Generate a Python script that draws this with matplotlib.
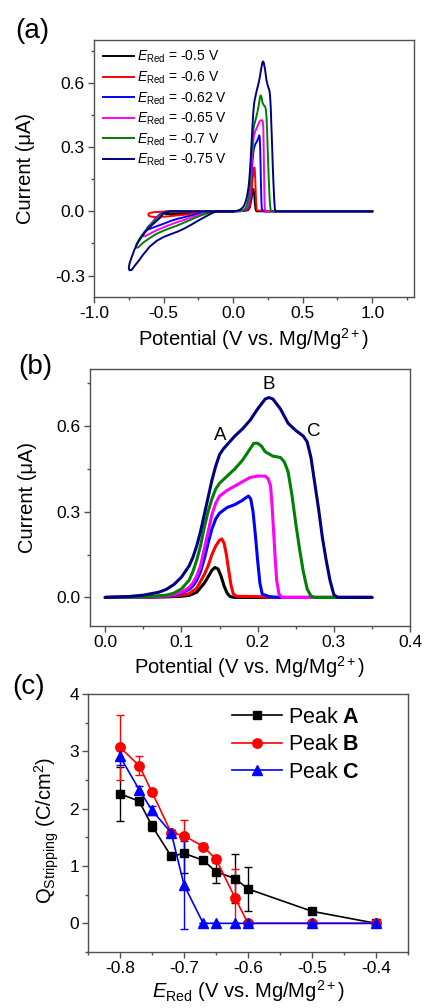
import numpy as np
import matplotlib
matplotlib.use('Agg')
import matplotlib.pyplot as plt
from matplotlib.ticker import MultipleLocator, FormatStrFormatter

plt.rcParams['font.family'] = ['Liberation Sans', 'DejaVu Sans']
plt.rcParams['mathtext.fontset'] = 'custom'
plt.rcParams['mathtext.rm'] = 'Liberation Sans'
plt.rcParams['mathtext.it'] = 'Liberation Sans:italic'
plt.rcParams['mathtext.bf'] = 'Liberation Sans:bold'
plt.rcParams['axes.unicode_minus'] = False

# ---------------- data ----------------
e_red_labels = ['-0.5', '-0.6', '-0.62', '-0.65', '-0.7', '-0.75']
curve_colors = ['#000000', '#FF0000', '#0000FF', '#FF00FF', '#008000', '#000080']

# Panel (b): anodic stripping part (potential V, current uA)
strip_E_050 = [0.00, 0.05, 0.08, 0.10, 0.11, 0.12, 0.13, 0.135, 0.14, 0.144, 0.148, 0.152, 0.156, 0.16, 0.164, 0.17, 0.35]
strip_I_050 = [0.0, 0.001, 0.002, 0.004, 0.007, 0.018, 0.05, 0.072, 0.095, 0.105, 0.10, 0.075, 0.04, 0.015, 0.003, 0.0, 0.0]

strip_E_060 = [0.00, 0.05, 0.08, 0.10, 0.11, 0.12, 0.13, 0.135, 0.14, 0.145, 0.15, 0.153, 0.156, 0.159, 0.162, 0.165, 0.168, 0.172, 0.20, 0.22, 0.35]
strip_I_060 = [0.0, 0.001, 0.003, 0.008, 0.013, 0.032, 0.08, 0.11, 0.15, 0.18, 0.20, 0.205, 0.19, 0.15, 0.095, 0.045, 0.013, 0.004, 0.003, 0.0, 0.0]

strip_E_062 = [0.00, 0.05, 0.08, 0.09, 0.10, 0.11, 0.115, 0.12, 0.125, 0.13, 0.135, 0.14, 0.145, 0.15, 0.16, 0.17, 0.18, 0.185, 0.188, 0.191, 0.194, 0.197, 0.200, 0.203, 0.206, 0.215, 0.228, 0.35]
strip_I_062 = [0.0, 0.001, 0.004, 0.008, 0.015, 0.028, 0.04, 0.06, 0.09, 0.135, 0.19, 0.24, 0.275, 0.295, 0.315, 0.325, 0.34, 0.35, 0.355, 0.345, 0.30, 0.22, 0.13, 0.05, 0.012, 0.003, 0.0, 0.0]

strip_E_065 = [0.00, 0.05, 0.08, 0.09, 0.10, 0.11, 0.115, 0.12, 0.125, 0.13, 0.135, 0.14, 0.145, 0.15, 0.16, 0.17, 0.18, 0.19, 0.20, 0.21, 0.214, 0.217, 0.219, 0.221, 0.223, 0.225, 0.228, 0.232, 0.35]
strip_I_065 = [0.0, 0.001, 0.005, 0.01, 0.018, 0.035, 0.05, 0.075, 0.11, 0.17, 0.23, 0.29, 0.33, 0.355, 0.375, 0.39, 0.405, 0.42, 0.425, 0.425, 0.415, 0.39, 0.32, 0.23, 0.14, 0.06, 0.012, 0.0, 0.0]

strip_E_070 = [0.00, 0.05, 0.08, 0.09, 0.10, 0.11, 0.115, 0.12, 0.125, 0.13, 0.135, 0.14, 0.145, 0.15, 0.16, 0.17, 0.18, 0.19, 0.195, 0.20, 0.205, 0.21, 0.22, 0.23, 0.235, 0.24, 0.245, 0.25, 0.255, 0.26, 0.265, 0.27, 0.275, 0.35]
strip_I_070 = [0.0, 0.002, 0.008, 0.015, 0.03, 0.06, 0.09, 0.13, 0.18, 0.245, 0.30, 0.345, 0.38, 0.40, 0.425, 0.45, 0.48, 0.52, 0.54, 0.54, 0.53, 0.51, 0.495, 0.49, 0.475, 0.44, 0.36, 0.26, 0.17, 0.09, 0.03, 0.005, 0.0, 0.0]

strip_E_075 = [0.00, 0.03, 0.05, 0.07, 0.08, 0.09, 0.10, 0.11, 0.115, 0.12, 0.125, 0.13, 0.135, 0.14, 0.145, 0.15, 0.155, 0.16, 0.165, 0.17, 0.18, 0.19, 0.20, 0.21, 0.215, 0.22, 0.23, 0.24, 0.25, 0.26, 0.265, 0.27, 0.275, 0.28, 0.285, 0.29, 0.295, 0.30, 0.305, 0.35]
strip_I_075 = [0.0, 0.003, 0.008, 0.018, 0.028, 0.045, 0.071, 0.11, 0.14, 0.18, 0.23, 0.29, 0.35, 0.41, 0.46, 0.50, 0.52, 0.535, 0.55, 0.565, 0.59, 0.62, 0.66, 0.695, 0.70, 0.695, 0.66, 0.61, 0.585, 0.565, 0.545, 0.49, 0.40, 0.31, 0.21, 0.13, 0.06, 0.01, 0.0, 0.0]

# Panel (a): cathodic loop (forward to E_Red, then back)
cath_E_050 = [0.0, -0.45, -0.49, -0.50, -0.49, -0.45, -0.40, -0.35, -0.30, -0.25, -0.20, -0.15, -0.12]
cath_I_050 = [0.0, 0.0, -0.002, -0.006, -0.012, -0.013, -0.012, -0.010, -0.008, -0.006, -0.003, -0.001, 0.0]

cath_E_060 = [0.0, -0.45, -0.52, -0.57, -0.595, -0.605, -0.61, -0.605, -0.59, -0.56, -0.52, -0.48, -0.45, -0.40, -0.35, -0.30, -0.25, -0.20, -0.15, -0.12]
cath_I_060 = [0.0, 0.0, -0.002, -0.004, -0.007, -0.010, -0.015, -0.021, -0.025, -0.027, -0.026, -0.024, -0.022, -0.019, -0.016, -0.012, -0.008, -0.004, -0.001, 0.0]

cath_E_062 = [0.0, -0.46, -0.50, -0.53, -0.56, -0.59, -0.61, -0.62, -0.615, -0.60, -0.55, -0.50, -0.45, -0.40, -0.35, -0.30, -0.25, -0.20, -0.15, -0.12]
cath_I_062 = [0.0, 0.0, -0.005, -0.015, -0.035, -0.058, -0.072, -0.080, -0.085, -0.082, -0.070, -0.058, -0.045, -0.035, -0.027, -0.019, -0.011, -0.005, -0.001, 0.0]

cath_E_065 = [0.0, -0.46, -0.50, -0.53, -0.57, -0.60, -0.63, -0.645, -0.65, -0.645, -0.63, -0.60, -0.55, -0.50, -0.45, -0.40, -0.35, -0.30, -0.25, -0.20, -0.15, -0.12]
cath_I_065 = [0.0, 0.0, -0.006, -0.020, -0.045, -0.068, -0.090, -0.105, -0.112, -0.117, -0.115, -0.105, -0.088, -0.075, -0.062, -0.050, -0.040, -0.028, -0.017, -0.008, -0.002, 0.0]

cath_E_070 = [0.0, -0.45, -0.50, -0.53, -0.56, -0.60, -0.63, -0.66, -0.68, -0.695, -0.70, -0.695, -0.68, -0.65, -0.60, -0.55, -0.50, -0.45, -0.40, -0.35, -0.30, -0.25, -0.20, -0.15, -0.12]
cath_I_070 = [0.0, 0.0, -0.006, -0.025, -0.042, -0.068, -0.090, -0.115, -0.135, -0.155, -0.165, -0.170, -0.167, -0.148, -0.125, -0.105, -0.090, -0.078, -0.066, -0.052, -0.038, -0.024, -0.012, -0.003, 0.0]

cath_E_075 = [0.0, -0.45, -0.50, -0.525, -0.55, -0.585, -0.62, -0.65, -0.67, -0.69, -0.71, -0.73, -0.745, -0.75, -0.745, -0.73, -0.72, -0.70, -0.68, -0.65, -0.60, -0.55, -0.50, -0.45, -0.40, -0.35, -0.30, -0.25, -0.20, -0.15, -0.12]
cath_I_075 = [0.0, 0.0, -0.008, -0.030, -0.045, -0.065, -0.088, -0.112, -0.132, -0.152, -0.180, -0.215, -0.245, -0.265, -0.275, -0.274, -0.265, -0.248, -0.232, -0.205, -0.165, -0.138, -0.120, -0.107, -0.095, -0.080, -0.062, -0.043, -0.025, -0.008, 0.0]

tail_E = [1.0]
tail_I = [0.0]

# Panel (c)
e_red_c = [-0.80, -0.77, -0.75, -0.72, -0.70, -0.67, -0.65, -0.62, -0.60, -0.50, -0.40]
qA = [2.26, 2.13, 1.70, 1.17, 1.22, 1.10, 0.90, 0.78, 0.60, 0.21, 0.00]
qA_err = [0.47, 0.06, 0.09, 0.04, 0.34, 0.05, 0.20, 0.43, 0.38, 0.03, 0.0]
qB = [3.07, 2.75, 2.29, 1.58, 1.53, 1.34, 1.12, 0.44, 0.00, 0.00, 0.00]
qB_err = [0.57, 0.16, 0.05, 0.04, 0.27, 0.06, 0.06, 0.51, 0.0, 0.0, 0.0]
qC = [2.91, 2.33, 1.97, 1.58, 0.67, 0.00, 0.00, 0.00, 0.00, 0.00, 0.00]
qC_err = [0.15, 0.06, 0.08, 0.04, 0.77, 0.0, 0.0, 0.0, 0.0, 0.0, 0.0]

strip_E = [strip_E_050, strip_E_060, strip_E_062, strip_E_065, strip_E_070, strip_E_075]
strip_I = [strip_I_050, strip_I_060, strip_I_062, strip_I_065, strip_I_070, strip_I_075]
cath_E = [cath_E_050, cath_E_060, cath_E_062, cath_E_065, cath_E_070, cath_E_075]
cath_I = [cath_I_050, cath_I_060, cath_I_062, cath_I_065, cath_I_070, cath_I_075]

# ---------------- figure ----------------
W, H = 424, 1008
fig = plt.figure(figsize=(W / 100, H / 100), dpi=100)

def ax_px(left, top, right, bottom):
    return fig.add_axes([left / W, 1 - bottom / H, (right - left) / W, (bottom - top) / H])

axA = ax_px(94, 40, 414, 297)
axB = ax_px(90, 369, 410, 626)
axC = ax_px(88, 694, 408, 952)

SPINE = '#505050'
def style(ax):
    for s in ax.spines.values():
        s.set_color(SPINE)
        s.set_linewidth(1.0)
    ax.tick_params(which='both', direction='out', top=False, right=False,
                   color=SPINE, labelsize=12.5)
    ax.tick_params(which='major', length=4, width=1.0, pad=2.5)
    ax.tick_params(which='minor', length=2.5, width=1.0)

pot_label = r'Potential (V vs. Mg/Mg$^{2+}$)'
cur_label = u'Current (\u03bcA)'

# ---- (a)
for lab, col, cE, cI, sE, sI in zip(e_red_labels, curve_colors, cath_E, cath_I, strip_E, strip_I):
    xs = list(cE) + list(sE) + tail_E
    ys = list(cI) + list(sI) + tail_I
    axA.plot(xs, ys, color=col, lw=1.4, label=r'$E_{\mathrm{Red}}$ = ' + lab + ' V')
axA.set_xlim(-1.0, 1.3)
axA.set_ylim(-0.4, 0.8)
axA.xaxis.set_major_locator(MultipleLocator(0.5))
axA.xaxis.set_minor_locator(MultipleLocator(0.25))
axA.yaxis.set_major_locator(MultipleLocator(0.3))
axA.yaxis.set_minor_locator(MultipleLocator(0.15))
axA.xaxis.set_major_formatter(FormatStrFormatter('%.1f'))
axA.yaxis.set_major_formatter(FormatStrFormatter('%.1f'))
style(axA)
axA.set_xlabel(pot_label, fontsize=14.5)
axA.set_ylabel(cur_label, fontsize=14.5)
axA.xaxis.set_label_coords(0.5, -0.115)
axA.yaxis.set_label_coords(-0.185, 0.5)
axA.legend(loc='upper left', bbox_to_anchor=(0.0, 1.0), frameon=False, fontsize=10,
           handlelength=2.2, handletextpad=0.25, labelspacing=0.3, borderaxespad=0.25)

# ---- (b)
for col, sE, sI in zip(curve_colors, strip_E, strip_I):
    axB.plot(sE, sI, color=col, lw=2.2, solid_joinstyle='round', solid_capstyle='round')
axB.set_xlim(-0.02, 0.4)
axB.set_ylim(-0.1, 0.8)
axB.xaxis.set_major_locator(MultipleLocator(0.1))
axB.xaxis.set_minor_locator(MultipleLocator(0.05))
axB.yaxis.set_major_locator(MultipleLocator(0.3))
axB.yaxis.set_minor_locator(MultipleLocator(0.15))
axB.xaxis.set_major_formatter(FormatStrFormatter('%.1f'))
axB.yaxis.set_major_formatter(FormatStrFormatter('%.1f'))
style(axB)
axB.set_xlabel(pot_label, fontsize=14.5)
axB.set_ylabel(cur_label, fontsize=14.5)
axB.xaxis.set_label_coords(0.5, -0.11)
axB.yaxis.set_label_coords(-0.165, 0.5)
axB.text(0.151, 0.568, 'A', fontsize=13.5, ha='center', va='center')
axB.text(0.214, 0.744, 'B', fontsize=13.5, ha='center', va='center')
axB.text(0.274, 0.582, 'C', fontsize=13.5, ha='center', va='center')

# ---- (c)
ebA = axC.errorbar(e_red_c, qA, yerr=qA_err, color='#000000', marker='s', ms=5.8, lw=1.2,
                   elinewidth=1.0, capsize=3, capthick=1.0)
ebB = axC.errorbar(e_red_c, qB, yerr=qB_err, color='#FF0000', marker='o', ms=6.8, lw=1.2,
                   elinewidth=1.0, capsize=3, capthick=1.0)
ebC = axC.errorbar(e_red_c, qC, yerr=qC_err, color='#0000FF', marker='^', ms=7.2, lw=1.2,
                   elinewidth=1.0, capsize=3, capthick=1.0)
axC.set_xlim(-0.85, -0.35)
axC.set_ylim(-0.5, 4.0)
axC.xaxis.set_major_locator(MultipleLocator(0.1))
axC.xaxis.set_minor_locator(MultipleLocator(0.05))
axC.yaxis.set_major_locator(MultipleLocator(1))
axC.yaxis.set_minor_locator(MultipleLocator(0.5))
axC.xaxis.set_major_formatter(FormatStrFormatter('%.1f'))
axC.yaxis.set_major_formatter(FormatStrFormatter('%d'))
style(axC)
axC.set_xlabel(r'$E_{\mathrm{Red}}$ (V vs. Mg/Mg$^{2+}$)', fontsize=14.5)
axC.set_ylabel(r'Q$_{\mathrm{Stripping}}$ (C/cm$^{2}$)', fontsize=14.5)
axC.xaxis.set_label_coords(0.5, -0.10)
axC.yaxis.set_label_coords(-0.085, 0.47)
axC.legend([ebA.lines[0], ebB.lines[0], ebC.lines[0]],
           [r'Peak $\mathbf{A}$', r'Peak $\mathbf{B}$', r'Peak $\mathbf{C}$'],
           loc='upper left', bbox_to_anchor=(0.41, 1.0), frameon=False, fontsize=15.5,
           handlelength=2.3, handletextpad=0.3, labelspacing=0.3, borderaxespad=0.2)

# panel labels
fig.text(15 / W, 1 - 31 / H, '(a)', fontsize=20, ha='left', va='center')
fig.text(18 / W, 1 - 367 / H, '(b)', fontsize=20, ha='left', va='center')
fig.text(12 / W, 1 - 687 / H, '(c)', fontsize=20, ha='left', va='center')

fig.savefig('out.png', dpi=100)
